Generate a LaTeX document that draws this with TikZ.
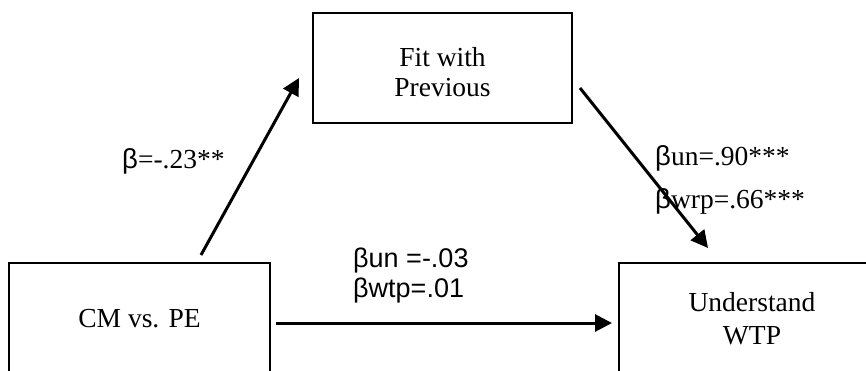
\documentclass[tikz,border=0pt]{standalone}
\usepackage{fontspec}
\setmainfont{Liberation Serif}
\newfontfamily\arialf{Liberation Sans}
\usetikzlibrary{arrows.meta}
\newcommand{\lowerln}[1]{\raisebox{-4pt}[\height][\depth]{#1}}
\begin{document}
\begin{tikzpicture}[x=1pt,y=-1pt,
  box/.style={draw,line width=2pt,minimum width=259pt,minimum height=110pt,align=center,
    font=\fontsize{27.5}{32}\selectfont,inner sep=0pt},
  openbox/.style={box,draw=none},
  edge/.style={line width=2pt},
  arr/.style={line width=3pt,-{Triangle[length=17pt,width=17pt]}},
  lab/.style={anchor=base west,inner sep=0pt,font=\fontsize{27.5}{32}\selectfont},
  slab/.style={anchor=base west,inner sep=0pt,font=\arialf\fontsize{27}{32}\selectfont}]
\useasboundingbox (0,0) rectangle (866,370);
\fill[white] (0,0) rectangle (866,370);
% boxes
\node[box] (fit) at (442.5,68) {\lowerln{Fit with}\\[-2pt]\lowerln{Previous}};
\node[openbox] (cm) at (139.5,319) {CM vs. PE};
\draw[edge] (cm.south west) -- (cm.north west) -- (cm.north east) -- (cm.south east);
\node[openbox,minimum width=264pt] (wtp) at (752,319) {Understand\\[1pt]WTP};
\draw[edge] (wtp.south west) -- (wtp.north west) -- ([xshift=-10pt]wtp.north east);
% connector end points
\coordinate (a1s) at (201,255);
\coordinate (a1e) at (299,78);
\coordinate (a2s) at (580,88);
\coordinate (a2e) at (708,248);
\coordinate (a3s) at (276,323);
\coordinate (a3e) at (612,323);
\draw[arr] (a1s) -- (a1e);
\draw[arr] (a2s) -- (a2e);
\draw[arr] (a3s) -- (a3e);
% labels
\node[lab] (l1) at (122,168) {{\arialf β}=-.23**};
\node[lab] (l2) at (655,165) {{\arialf β}un=.90***};
\node[lab] (l3) at (655,208) {{\arialf β}wrp=.66***};
\node[slab] (l4) at (353,267) {βun =-.03};
\node[slab] (l5) at (353,297) {βwtp=.01};
\end{tikzpicture}
\end{document}
